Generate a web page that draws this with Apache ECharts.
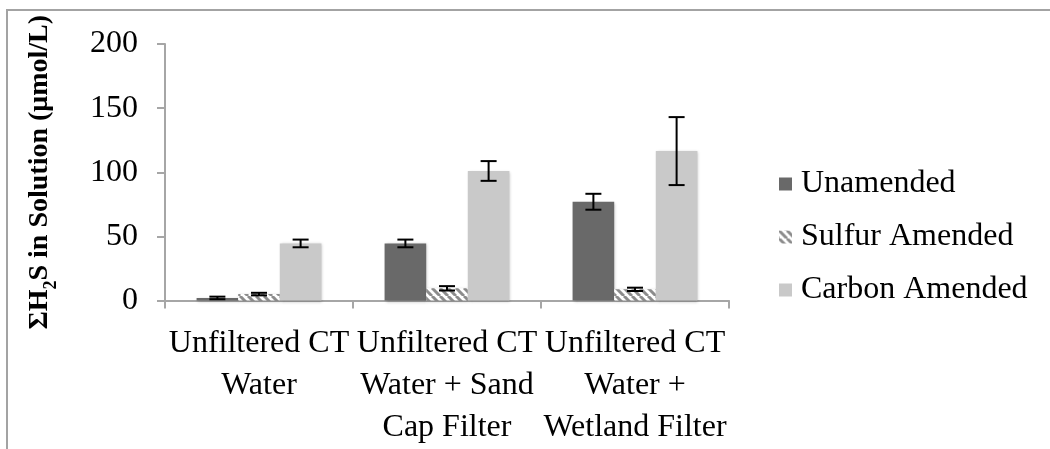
<!DOCTYPE html>
<html>
<head>
<meta charset="utf-8">
<script src="https://cdn.jsdelivr.net/npm/echarts@6/dist/echarts.min.js"></script>
<style>
  html, body { margin: 0; padding: 0; background: #fff; }
  #chart { width: 1050px; height: 449px; }
</style>
</head>
<body>
<div id="chart"></div>
<script>
// Treatments along the x axis
const categories = [
  'Unfiltered CT\nWater',
  'Unfiltered CT\nWater + Sand\nCap Filter',
  'Unfiltered CT\nWater +\nWetland Filter'
];
const seriesNames = ['Unamended', 'Sulfur Amended', 'Carbon Amended'];

// Mean ΣH2S (µmol/L) per treatment
const unamended = [2, 44.5, 77];
const sulfurAmended = [5, 9.5, 8.7];
const carbonAmended = [44.5, 101, 116.5];

// Error (±) per treatment
const unamendedErr = [1, 3, 6.2];
const sulfurErr = [1, 1.7, 1.3];
const carbonErr = [3, 7.7, 26.5];

const yTicks = { min: 0, max: 200, interval: 50 };

const FONT = '"Liberation Serif", "Times New Roman", serif';
const BAR_CATEGORY_GAP = 0.336;

// Diagonal hatch used for the sulfur-amended bars
function hatchPattern() {
  const s = 8;
  const c = document.createElement('canvas');
  c.width = s; c.height = s;
  const g = c.getContext('2d');
  g.fillStyle = '#ffffff';
  g.fillRect(0, 0, s, s);
  g.strokeStyle = '#8c8c8c';
  g.lineWidth = 3;
  for (let o = -s; o <= s; o += s) {
    g.beginPath();
    g.moveTo(o, 0);
    g.lineTo(o + s, s);
    g.stroke();
  }
  return { image: c, repeat: 'repeat' };
}

const barColors = ['#696969', hatchPattern(), '#c9c9c9'];
const values = [unamended, sulfurAmended, carbonAmended];
const errors = [unamendedErr, sulfurErr, carbonErr];

const barShadow = {
  shadowBlur: 3,
  shadowColor: 'rgba(0,0,0,0.25)',
  shadowOffsetX: 1,
  shadowOffsetY: 1
};

const barSeries = seriesNames.map((name, i) => ({
  name: name,
  type: 'bar',
  data: values[i],
  barGap: '0%',
  barCategoryGap: (BAR_CATEGORY_GAP * 100) + '%',
  itemStyle: Object.assign({ color: barColors[i] }, barShadow),
  emphasis: { disabled: true },
  z: 2
}));

// Error whiskers drawn on top of each bar
const errorSeries = seriesNames.map((name, i) => ({
  type: 'custom',
  name: name + ' error',
  data: values[i].map((v, k) => [k, v, errors[i][k]]),
  z: 5,
  silent: true,
  renderItem: function (params, api) {
    const k = api.value(0);
    const v = api.value(1);
    const e = api.value(2);
    const band = api.size([1, 0])[0];
    const barW = band * (1 - BAR_CATEGORY_GAP) / 3;
    const top = api.coord([k, v + e]);
    const bot = api.coord([k, v - e]);
    const x = top[0] + (i - 1) * barW;
    const hw = 8;
    const st = { stroke: '#000', lineWidth: 2 };
    return {
      type: 'group',
      children: [
        { type: 'line', shape: { x1: x, y1: top[1], x2: x, y2: bot[1] }, style: st },
        { type: 'line', shape: { x1: x - hw, y1: top[1], x2: x + hw, y2: top[1] }, style: st },
        { type: 'line', shape: { x1: x - hw, y1: bot[1], x2: x + hw, y2: bot[1] }, style: st }
      ]
    };
  }
}));

const chart = echarts.init(document.getElementById('chart'), null, { renderer: 'canvas' });

chart.setOption({
  animation: false,
  backgroundColor: '#ffffff',
  textStyle: { fontFamily: FONT },
  graphic: [
    {
      type: 'rect',
      shape: { x: 7, y: 10, width: 1100, height: 500 },
      style: { fill: 'none', stroke: '#a3a3a3', lineWidth: 2 },
      silent: true
    }
  ],
  grid: { left: 165, right: 321, top: 44, bottom: 148.5 },
  legend: {
    orient: 'vertical',
    left: 774,
    top: 163,
    icon: 'rect',
    itemWidth: 13,
    itemHeight: 13,
    itemGap: 21,
    data: seriesNames,
    selectedMode: false,
    textStyle: { fontFamily: FONT, fontSize: 32, color: '#000', padding: [0, 0, 0, 4] }
  },
  xAxis: {
    type: 'category',
    data: categories,
    axisLine: { lineStyle: { color: '#a6a6a6', width: 2 } },
    axisTick: { show: true, length: 8, lineStyle: { color: '#a6a6a6', width: 2 } },
    axisLabel: {
      interval: 0,
      margin: 22,
      fontFamily: FONT,
      fontSize: 32,
      lineHeight: 42,
      color: '#000'
    },
    splitLine: { show: false }
  },
  yAxis: {
    type: 'value',
    min: yTicks.min,
    max: yTicks.max,
    interval: yTicks.interval,
    name: '{a|ΣH}{s|2}{a|S in Solution (μmol/L)}',
    nameLocation: 'middle',
    nameRotate: 90,
    nameGap: 111,
    nameTextStyle: {
      rich: {
        a: { fontFamily: FONT, fontWeight: 'bold', fontSize: 28, color: '#000', lineHeight: 34, verticalAlign: 'bottom' },
        s: { fontFamily: FONT, fontWeight: 'bold', fontSize: 18, color: '#000', lineHeight: 34, verticalAlign: 'bottom', padding: [0, 0, -6, 0] }
      }
    },
    axisLine: { show: true, lineStyle: { color: '#a6a6a6', width: 2 } },
    axisTick: { show: true, length: 8, lineStyle: { color: '#a6a6a6', width: 2 } },
    axisLabel: { margin: 27, fontFamily: FONT, fontSize: 32, color: '#000' },
    splitLine: { show: false }
  },
  series: barSeries.concat(errorSeries)
});
</script>
</body>
</html>
